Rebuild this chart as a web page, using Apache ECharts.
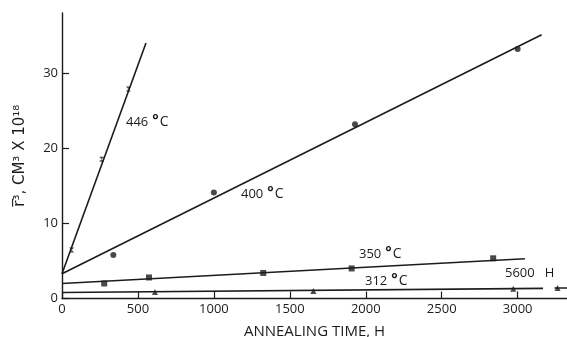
<!DOCTYPE html>
<html>
<head>
<meta charset="utf-8">
<script src="https://cdn.jsdelivr.net/npm/echarts@6/dist/echarts.min.js"></script>
<style>
  html, body { margin: 0; padding: 0; background: #fff; }
  #chart { width: 567px; height: 337px; }
</style>
</head>
<body>
<div id="chart"></div>
<script>
// Annealing time (h) against mean cubed particle radius (cm^3 x 10^18)
const xTickValues = [0, 500, 1000, 1500, 2000, 2500, 3000];
const yTickValues = [0, 10, 20, 30];

// 446 °C
const fit446 = [[0, 3.3], [553, 34.0]];
const pts446 = [[64, 6.45], [261, 18.55], [437, 27.9]];
// 400 °C
const fit400 = [[0, 3.3], [3158, 35.1]];
const pts400 = [[338, 5.8], [1000, 14.1], [1929, 23.2], [3000, 33.2]];
// 350 °C
const fit350 = [[0, 2.0], [3048, 5.3]];
const pts350 = [[278, 2.0], [573, 2.8], [1325, 3.4], [1907, 4.0], [2839, 5.35]];
// 312 °C (the last reading, at 5600 h, sits past the break in the time axis)
const fit312 = [[0, 0.8], [3167, 1.35]];
const pts312 = [[612, 0.85], [1655, 1.0], [2971, 1.3]];
const fit312Late = [[5580, 1.4], [5662, 1.4]];
const pts312Late = [[5600, 1.4]];

const ink = '#1c1c1c';
const font = 'Open Sans';

function fitLine(data, xAxisIndex) {
  return {
    type: 'line', data, xAxisIndex: xAxisIndex || 0, symbol: 'none', silent: true,
    lineStyle: { color: ink, width: 1.6 }, z: 2
  };
}
function points(data, symbol, size, xAxisIndex) {
  return {
    type: 'scatter', data, xAxisIndex: xAxisIndex || 0, symbol, symbolSize: size,
    itemStyle: { color: ink }, z: 3
  };
}

function tempLabel(x, y, num) {
  return {
    type: 'text', left: x, top: y,
    style: {
      text: '{n|' + num + '}{d|°}{c|C}',
      rich: {
        n: { fontFamily: font, fontSize: 13, fill: ink, padding: [0, 4, 0, 0] },
        d: { fontFamily: font, fontSize: 15, fontWeight: 'bold', fill: ink, padding: [0, 1, 4, 0] },
        c: { fontFamily: font, fontSize: 14, fill: ink }
      }
    }
  };
}

const plain = v => String(v);

const chart = echarts.init(document.getElementById('chart'), null, { renderer: 'canvas' });
chart.setOption({
  animation: false,
  backgroundColor: '#fff',
  grid: { left: 62, right: 0, top: 13, bottom: 38.5, containLabel: false, outerBoundsMode: 'none' },
  xAxis: [
    {
      type: 'value', min: 0, max: 3325, interval: 500,
      name: 'ANNEALING TIME, H', nameLocation: 'middle', nameGap: 26,
      nameTextStyle: { fontFamily: font, fontSize: 15, color: ink },
      axisLine: { onZero: false, lineStyle: { color: ink, width: 1.4 } },
      axisTick: { inside: true, length: 7, lineStyle: { color: ink, width: 1.2 },
        customValues: xTickValues },
      axisLabel: { fontFamily: font, fontSize: 13, color: ink, margin: 4,
        customValues: xTickValues, formatter: plain },
      splitLine: { show: false }
    },
    {
      type: 'value', min: 2337, max: 5662, show: false, position: 'top',
      splitLine: { show: false }
    }
  ],
  yAxis: {
    type: 'value', min: 0, max: 38, interval: 10,
    name: 'r\u0305\u00B3, CM\u00B3 X 10\u00B9\u2078', nameLocation: 'middle', nameGap: 34,
    nameRotate: 90,
    nameTextStyle: { fontFamily: 'DejaVu Sans', fontSize: 15, color: ink },
    axisLine: { onZero: false, lineStyle: { color: ink, width: 1.4 } },
    axisTick: { inside: true, length: 7, lineStyle: { color: ink, width: 1.2 },
      customValues: yTickValues },
    axisLabel: { fontFamily: font, fontSize: 13, color: ink, margin: 4,
      customValues: yTickValues, formatter: plain },
    splitLine: { show: false }
  },
  series: [
    fitLine(fit446),
    points(pts446, 'path://M0,0L10,0L0,10L10,10Z', 5),
    fitLine(fit400),
    points(pts400, 'circle', 6),
    fitLine(fit350),
    points(pts350, 'rect', 6),
    fitLine(fit312),
    points(pts312, 'triangle', 6),
    fitLine(fit312Late, 1),
    points(pts312Late, 'triangle', 6, 1)
  ],
  graphic: [
    tempLabel(126, 113, '446'),
    tempLabel(241, 185, '400'),
    tempLabel(359, 245, '350'),
    tempLabel(365, 272, '312'),
    {
      type: 'text', left: 505, top: 267,
      style: { text: '5600   H', fontFamily: font, fontSize: 13, fill: ink }
    }
  ]
});
</script>
</body>
</html>
